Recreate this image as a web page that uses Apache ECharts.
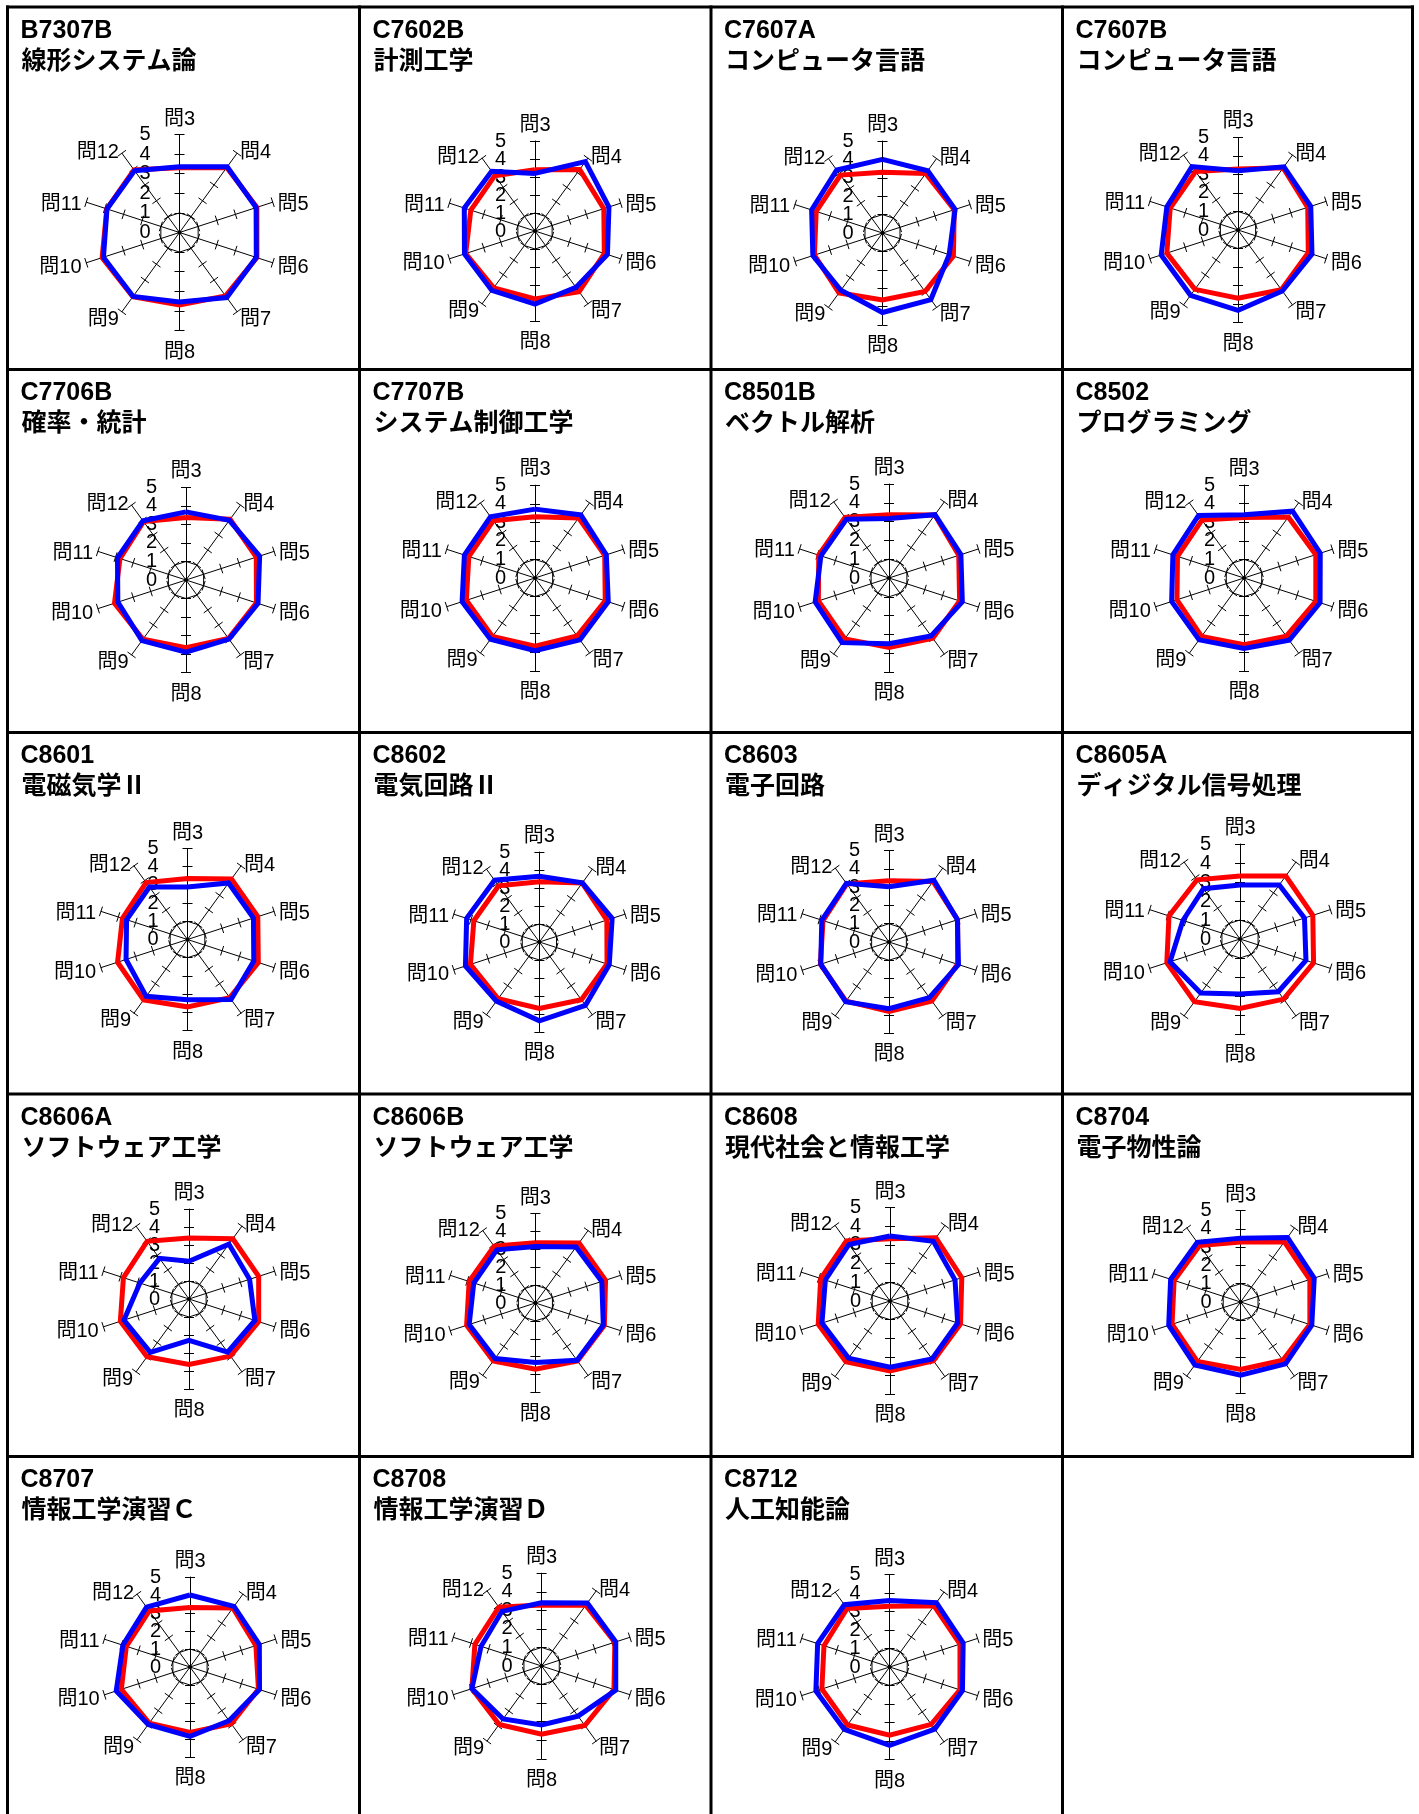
<!DOCTYPE html>
<html><head><meta charset="utf-8">
<script src="https://cdn.jsdelivr.net/npm/echarts@6/dist/echarts.min.js"></script>
<style>html,body{margin:0;padding:0;background:#fff}#c{width:1419px;height:1814px}</style>
</head><body><div id="c"></div>
<script>
// ---- data ----
const questions = ['問3','問4','問5','問6','問7','問8','問9','問10','問11','問12'];
const tickValues = [1, 2, 3, 4, 5];
const labelValuesEven = [0, 2, 4];
const labelValuesOdd = [1, 3, 5];
const codes = ['B7307B','C7602B','C7607A','C7607B','C7706B','C7707B','C8501B','C8502','C8601','C8602','C8603','C8605A','C8606A','C8606B','C8608','C8704','C8707','C8708','C8712'];
const names = ['線形システム論','計測工学','コンピュータ言語','コンピュータ言語','確率・統計','システム制御工学','ベクトル解析','プログラミング','電磁気学Ⅱ','電気回路Ⅱ','電子回路','ディジタル信号処理','ソフトウェア工学','ソフトウェア工学','現代社会と情報工学','電子物性論','情報工学演習Ｃ','情報工学演習Ｄ','人工知能論'];

const B7307B_red  = [3.30, 4.10, 4.15, 4.15, 4.00, 3.70, 4.05, 4.15, 3.90, 3.95];
const B7307B_blue = [3.35, 4.14, 4.11, 4.12, 4.10, 3.54, 4.03, 4.08, 3.89, 3.90];
const C7602B_red  = [3.40, 4.22, 4.02, 4.05, 4.17, 3.77, 3.90, 4.05, 3.75, 3.80];
const C7602B_blue = [3.20, 4.76, 4.32, 4.23, 3.87, 4.06, 4.08, 4.12, 4.13, 4.10];
const C7607A_red  = [3.30, 4.00, 4.10, 4.05, 3.93, 3.64, 4.02, 3.89, 3.79, 3.89];
const C7607A_blue = [4.00, 4.18, 4.15, 3.81, 4.47, 4.32, 3.85, 3.98, 4.05, 4.23];
const C7607B_red  = [3.30, 4.15, 3.96, 3.99, 3.98, 3.68, 3.96, 4.04, 3.85, 3.90];
const C7607B_blue = [3.20, 4.22, 4.13, 4.20, 4.07, 4.34, 4.36, 4.36, 4.04, 4.23];
const C7706B_red  = [3.37, 4.05, 3.99, 4.00, 3.90, 3.66, 3.95, 4.06, 3.75, 3.90];
const C7706B_blue = [3.68, 3.98, 4.18, 4.09, 3.95, 3.90, 4.05, 3.87, 3.89, 3.95];
const C7707B_red  = [3.30, 4.00, 3.95, 3.98, 3.86, 3.67, 3.90, 3.89, 3.75, 3.82];
const C7707B_blue = [3.71, 4.20, 4.04, 4.15, 4.12, 3.92, 4.08, 4.13, 4.00, 4.08];
const C8501B_red  = [3.36, 4.15, 3.90, 3.95, 3.96, 3.70, 4.00, 3.95, 3.93, 3.98];
const C8501B_blue = [3.16, 4.16, 4.02, 4.10, 3.81, 3.50, 4.25, 4.13, 3.81, 3.86];
const C8502_red   = [3.25, 4.05, 4.06, 4.06, 3.87, 3.58, 3.88, 3.79, 3.76, 3.85];
const C8502_blue  = [3.40, 4.44, 4.31, 4.30, 4.14, 3.79, 4.11, 4.09, 4.02, 4.16];
const C8601_red   = [3.35, 4.11, 4.06, 4.09, 3.95, 3.70, 4.10, 4.04, 3.76, 3.87];
const C8601_blue  = [2.88, 3.84, 3.81, 3.83, 4.07, 3.31, 3.86, 3.55, 3.52, 3.56];
const C8602_red   = [3.35, 4.05, 3.94, 3.95, 3.97, 3.69, 3.90, 4.03, 3.83, 3.86];
const C8602_blue  = [3.65, 4.06, 4.25, 4.08, 4.35, 4.38, 4.06, 4.32, 4.25, 4.24];
const C8603_red   = [3.35, 4.10, 3.95, 3.95, 3.99, 3.80, 4.00, 3.95, 3.80, 3.93];
const C8603_blue  = [3.03, 4.18, 3.94, 4.00, 3.76, 3.65, 4.04, 3.93, 3.87, 3.97];
const C8605A_red  = [3.32, 4.10, 4.03, 4.07, 3.91, 3.65, 4.08, 4.05, 3.93, 3.85];
const C8605A_blue = [2.84, 3.52, 3.57, 3.65, 3.43, 2.90, 3.52, 3.87, 3.16, 3.27];
const C8606A_red  = [3.39, 4.14, 4.07, 4.07, 3.92, 3.63, 3.97, 4.01, 3.83, 3.96];
const C8606A_blue = [2.10, 3.77, 3.54, 3.85, 3.65, 2.30, 3.66, 3.80, 2.87, 2.79];
const C8606B_red  = [3.37, 4.15, 4.12, 4.05, 4.00, 3.70, 4.00, 4.04, 3.89, 3.92];
const C8606B_blue = [3.15, 3.87, 3.90, 3.99, 3.96, 3.33, 3.84, 3.89, 3.62, 3.67];
const C8608_red   = [3.33, 4.18, 4.04, 3.97, 3.95, 3.75, 4.02, 4.04, 3.90, 3.97];
const C8608_blue  = [3.48, 3.95, 3.66, 3.81, 3.83, 3.54, 3.78, 3.83, 3.64, 3.74];
const C8704_red   = [3.28, 4.07, 3.98, 3.98, 3.93, 3.68, 4.02, 3.94, 3.82, 3.81];
const C8704_blue  = [3.49, 4.36, 4.23, 4.09, 4.18, 4.00, 4.25, 4.13, 4.02, 4.03];
const C8707_red   = [3.31, 4.05, 3.85, 4.00, 3.90, 3.63, 3.85, 4.01, 3.72, 3.85];
const C8707_blue  = [4.00, 4.16, 4.05, 4.06, 3.69, 3.85, 3.95, 4.31, 3.92, 4.11];
const C8708_red   = [3.29, 4.05, 4.15, 4.10, 3.96, 3.68, 3.89, 3.95, 3.78, 3.92];
const C8708_blue  = [3.41, 4.19, 4.20, 4.20, 3.34, 3.18, 3.53, 3.95, 3.43, 3.64];
const C8712_red   = [3.28, 4.09, 4.00, 4.00, 3.83, 3.69, 3.87, 3.85, 3.73, 3.91];
const C8712_blue  = [3.60, 4.30, 4.18, 4.14, 4.15, 4.23, 4.17, 4.19, 4.09, 4.16];

const redSeries  = [B7307B_red, C7602B_red, C7607A_red, C7607B_red, C7706B_red, C7707B_red, C8501B_red, C8502_red, C8601_red, C8602_red, C8603_red, C8605A_red, C8606A_red, C8606B_red, C8608_red, C8704_red, C8707_red, C8708_red, C8712_red];
const blueSeries = [B7307B_blue, C7602B_blue, C7607A_blue, C7607B_blue, C7706B_blue, C7707B_blue, C8501B_blue, C8502_blue, C8601_blue, C8602_blue, C8603_blue, C8605A_blue, C8606A_blue, C8606B_blue, C8608_blue, C8704_blue, C8707_blue, C8708_blue, C8712_blue];

// ---- layout (pixels) ----
const colX = [7.5, 359.5, 711, 1062.5, 1412.5];
const rowY = [7, 369.5, 732.5, 1094, 1456.5];
const radarGeom = [ // [cx, cy, radius]
  [179.5, 232.5, 98], [535, 231, 90], [882.5, 233, 92], [1238, 230, 92.6],
  [186, 580, 92.6], [535, 578, 92.8], [889, 578, 94], [1244, 578, 93],
  [187.5, 939.5, 91], [539.4, 942, 90], [889, 942, 91.3], [1240, 939, 95],
  [189, 1299, 90], [535.4, 1303, 89.5], [890, 1301, 93.4], [1240.6, 1302, 91.5],
  [190, 1667, 90], [541.6, 1666, 92.8], [889.6, 1667, 92.5]
];

const FONT = "'Liberation Sans','Noto Sans CJK JP',sans-serif";
// ECharts radar goes counter-clockwise; reorder so 問3,問4,... run clockwise
const order = [0, 9, 8, 7, 6, 5, 4, 3, 2, 1];
const reorder = arr => order.map(k => arr[k]);

const radars = [], series = [], titles = [], graphics = [];
const labelStyle = { show: true, margin: 29, fontSize: 20, color: '#000', fontFamily: FONT, showMinLabel: true, showMaxLabel: true };

codes.forEach((code, i) => {
  const col = i % 4, row = Math.floor(i / 4);
  const x0 = colX[col], y0 = rowY[row];
  titles.push({ text: code, left: x0 + 13, top: y0 + 11.5, padding: 0,
    textStyle: { fontSize: 25, fontWeight: 'bold', fontFamily: "'Liberation Sans',sans-serif", color: '#000' } });
  titles.push({ text: names[i], left: x0 + 14, top: y0 + 39.5, padding: 0,
    textStyle: { fontSize: 25, fontWeight: 'bold', fontFamily: "'Noto Sans CJK JP',sans-serif", color: '#000' } });

  const [cx, cy, r] = radarGeom[i];
  const base = { center: [cx, cy], radius: r, startAngle: 90, splitNumber: 5, shape: 'polygon', silent: true };
  // main radar: axes, names, ring at 1
  radars.push(Object.assign({}, base, {
    indicator: order.map(qi => {
      const ind = { name: questions[qi], min: 0, max: 5, nameGap: qi === 0 ? 5.5 : (qi === 5 ? 11.5 : 5) };
      if (qi !== 0 && qi !== 5) ind.nameTextStyle = { verticalAlign: 'top', lineHeight: 7 };
      return ind;
    }),
    axisName: { color: '#000', fontSize: 20, fontFamily: FONT },
    axisLine: { show: true, lineStyle: { color: '#000', width: 1 } },
    axisTick: { show: false },
    axisLabel: { show: false },
    splitLine: { show: true, lineStyle: { color: ['transparent', '#000', 'transparent', 'transparent', 'transparent', 'transparent'], width: 1 } },
    splitArea: { show: false }
  }));
  // tick radars: one per side of each axis; each also carries half of the 0..5 labels on 問3
  [[5, labelValuesEven], [-5, labelValuesOdd]].forEach(([len, labVals]) => {
    radars.push(Object.assign({}, base, {
      indicator: order.map((qi, k) => {
        const ind = { name: '', min: 0, max: 5 };
        if (k === 0) ind.axisLabel = Object.assign({ customValues: labVals }, labelStyle);
        return ind;
      }),
      axisName: { show: false },
      axisLine: { show: false },
      axisTick: { show: true, length: len, customValues: tickValues, lineStyle: { color: '#000', width: 1 } },
      axisLabel: { show: false },
      splitLine: { show: false },
      splitArea: { show: false }
    }));
  });
  const ri = radars.length - 3;
  series.push({ type: 'radar', radarIndex: ri, symbol: 'none', silent: true, z: 3,
    lineStyle: { color: '#ff0000', width: 5, join: 'miter' }, itemStyle: { color: '#ff0000' },
    data: [{ value: reorder(redSeries[i]) }] });
  series.push({ type: 'radar', radarIndex: ri, symbol: 'none', silent: true, z: 4,
    lineStyle: { color: '#0000ff', width: 5, join: 'miter' }, itemStyle: { color: '#0000ff' },
    data: [{ value: reorder(blueSeries[i]) }] });
  // small hub dot where the axes meet
  graphics.push({ type: 'circle', silent: true, z: 1, shape: { cx: cx, cy: cy, r: 2 }, style: { fill: '#000' } });
});

// cell borders
const B = { stroke: '#000', lineWidth: 3 };
colX.forEach((x, k) => {
  graphics.push({ type: 'line', silent: true, z: 100, shape: { x1: x, y1: 5.5, x2: x, y2: k === 4 ? 1458 : 1814 }, style: B });
});
rowY.forEach(y => {
  graphics.push({ type: 'line', silent: true, z: 100, shape: { x1: 6, y1: y, x2: 1414, y2: y }, style: B });
});

const chart = echarts.init(document.getElementById('c'), null, { renderer: 'canvas' });
chart.setOption({
  backgroundColor: '#fff',
  animation: false,
  title: titles,
  radar: radars,
  series: series,
  graphic: graphics
});
</script>
</body></html>
